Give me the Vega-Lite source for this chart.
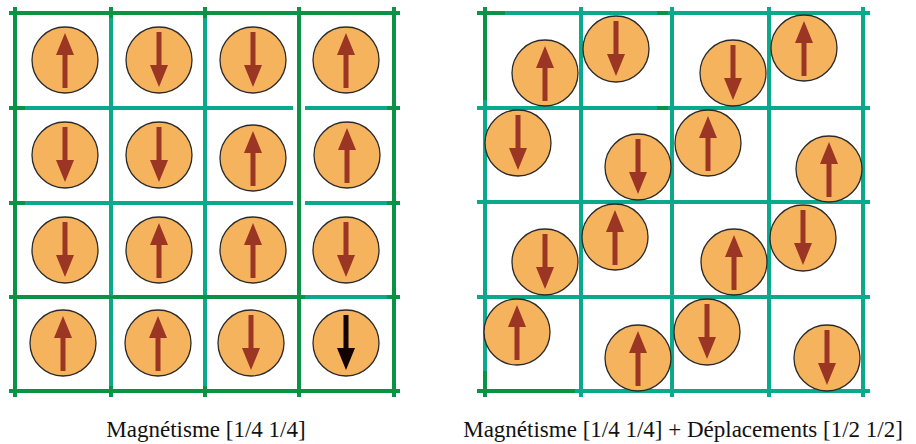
{
  "$schema": "https://vega.github.io/schema/vega-lite/v6.json",
  "width": 916,
  "height": 444,
  "autosize": {"type": "none"},
  "padding": 0,
  "background": "white",
  "config": {"view": {"stroke": null}},
  "datasets": {
    "grid": [
      {"panel": "L", "x": 111, "x2": 111, "y": 7, "y2": 397, "tone": "teal"},
      {"panel": "L", "x": 205, "x2": 205, "y": 7, "y2": 397, "tone": "teal"},
      {"panel": "L", "x": 25, "x2": 293, "y": 108, "y2": 108, "tone": "teal"},
      {"panel": "L", "x": 305, "x2": 387, "y": 108, "y2": 108, "tone": "teal"},
      {"panel": "L", "x": 25, "x2": 293, "y": 203, "y2": 203, "tone": "teal"},
      {"panel": "L", "x": 305, "x2": 387, "y": 203, "y2": 203, "tone": "teal"},
      {"panel": "L", "x": 305, "x2": 387, "y": 297, "y2": 297, "tone": "teal"},
      {"panel": "L", "x": 15, "x2": 15, "y": 7, "y2": 397, "tone": "dark"},
      {"panel": "L", "x": 299, "x2": 299, "y": 7, "y2": 397, "tone": "dark"},
      {"panel": "L", "x": 394, "x2": 394, "y": 7, "y2": 397, "tone": "dark"},
      {"panel": "L", "x": 111, "x2": 111, "y": 7, "y2": 18, "tone": "dark"},
      {"panel": "L", "x": 205, "x2": 205, "y": 7, "y2": 18, "tone": "dark"},
      {"panel": "L", "x": 111, "x2": 111, "y": 386, "y2": 397, "tone": "dark"},
      {"panel": "L", "x": 205, "x2": 205, "y": 386, "y2": 397, "tone": "dark"},
      {"panel": "L", "x": 9, "x2": 400, "y": 13, "y2": 13, "tone": "dark"},
      {"panel": "L", "x": 9, "x2": 25, "y": 108, "y2": 108, "tone": "dark"},
      {"panel": "L", "x": 387, "x2": 400, "y": 108, "y2": 108, "tone": "dark"},
      {"panel": "L", "x": 9, "x2": 25, "y": 203, "y2": 203, "tone": "dark"},
      {"panel": "L", "x": 387, "x2": 400, "y": 203, "y2": 203, "tone": "dark"},
      {"panel": "L", "x": 9, "x2": 305, "y": 297, "y2": 297, "tone": "dark"},
      {"panel": "L", "x": 387, "x2": 400, "y": 297, "y2": 297, "tone": "dark"},
      {"panel": "L", "x": 9, "x2": 400, "y": 391, "y2": 391, "tone": "dark"},
      {"panel": "R", "x": 485, "x2": 485, "y": 7, "y2": 397, "tone": "teal"},
      {"panel": "R", "x": 581, "x2": 581, "y": 7, "y2": 397, "tone": "teal"},
      {"panel": "R", "x": 672, "x2": 672, "y": 7, "y2": 397, "tone": "teal"},
      {"panel": "R", "x": 769, "x2": 769, "y": 7, "y2": 397, "tone": "teal"},
      {"panel": "R", "x": 863, "x2": 863, "y": 7, "y2": 397, "tone": "teal"},
      {"panel": "R", "x": 477, "x2": 870, "y": 13, "y2": 13, "tone": "teal"},
      {"panel": "R", "x": 477, "x2": 870, "y": 108, "y2": 108, "tone": "teal"},
      {"panel": "R", "x": 477, "x2": 870, "y": 202, "y2": 202, "tone": "teal"},
      {"panel": "R", "x": 477, "x2": 870, "y": 297, "y2": 297, "tone": "teal"},
      {"panel": "R", "x": 477, "x2": 870, "y": 391, "y2": 391, "tone": "teal"},
      {"panel": "R", "x": 485, "x2": 485, "y": 7, "y2": 100, "tone": "dark"},
      {"panel": "R", "x": 477, "x2": 505, "y": 13, "y2": 13, "tone": "dark"},
      {"panel": "R", "x": 657, "x2": 668, "y": 13, "y2": 13, "tone": "dark"},
      {"panel": "R", "x": 657, "x2": 668, "y": 108, "y2": 108, "tone": "dark"},
      {"panel": "R", "x": 477, "x2": 575, "y": 391, "y2": 391, "tone": "dark"},
      {"panel": "R", "x": 485, "x2": 485, "y": 371, "y2": 397, "tone": "dark"}
    ],
    "atoms": [
      {"panel": "L", "row": 1, "col": 1, "x": 65, "y": 60, "spin": "up", "marker": "normal"},
      {"panel": "L", "row": 1, "col": 2, "x": 159, "y": 60, "spin": "down", "marker": "normal"},
      {"panel": "L", "row": 1, "col": 3, "x": 253, "y": 60, "spin": "down", "marker": "normal"},
      {"panel": "L", "row": 1, "col": 4, "x": 346, "y": 60, "spin": "up", "marker": "normal"},
      {"panel": "L", "row": 2, "col": 1, "x": 65, "y": 155, "spin": "down", "marker": "normal"},
      {"panel": "L", "row": 2, "col": 2, "x": 159, "y": 155, "spin": "down", "marker": "normal"},
      {"panel": "L", "row": 2, "col": 3, "x": 253, "y": 158, "spin": "up", "marker": "normal"},
      {"panel": "L", "row": 2, "col": 4, "x": 347, "y": 155, "spin": "up", "marker": "normal"},
      {"panel": "L", "row": 3, "col": 1, "x": 65, "y": 250, "spin": "down", "marker": "normal"},
      {"panel": "L", "row": 3, "col": 2, "x": 159, "y": 250, "spin": "up", "marker": "normal"},
      {"panel": "L", "row": 3, "col": 3, "x": 253, "y": 250, "spin": "up", "marker": "normal"},
      {"panel": "L", "row": 3, "col": 4, "x": 346, "y": 250, "spin": "down", "marker": "normal"},
      {"panel": "L", "row": 4, "col": 1, "x": 63, "y": 343, "spin": "up", "marker": "normal"},
      {"panel": "L", "row": 4, "col": 2, "x": 158, "y": 343, "spin": "up", "marker": "normal"},
      {"panel": "L", "row": 4, "col": 3, "x": 251, "y": 343, "spin": "down", "marker": "normal"},
      {"panel": "L", "row": 4, "col": 4, "x": 346, "y": 343, "spin": "down", "marker": "highlight"},
      {"panel": "R", "row": 1, "col": 1, "x": 545, "y": 73, "spin": "up", "marker": "normal"},
      {"panel": "R", "row": 1, "col": 2, "x": 616, "y": 49, "spin": "down", "marker": "normal"},
      {"panel": "R", "row": 1, "col": 3, "x": 733, "y": 73, "spin": "down", "marker": "normal"},
      {"panel": "R", "row": 1, "col": 4, "x": 804, "y": 48, "spin": "up", "marker": "normal"},
      {"panel": "R", "row": 2, "col": 1, "x": 518, "y": 143, "spin": "down", "marker": "normal"},
      {"panel": "R", "row": 2, "col": 2, "x": 638, "y": 167, "spin": "down", "marker": "normal"},
      {"panel": "R", "row": 2, "col": 3, "x": 708, "y": 143, "spin": "up", "marker": "normal"},
      {"panel": "R", "row": 2, "col": 4, "x": 829, "y": 169, "spin": "up", "marker": "normal"},
      {"panel": "R", "row": 3, "col": 1, "x": 545, "y": 262, "spin": "down", "marker": "normal"},
      {"panel": "R", "row": 3, "col": 2, "x": 615, "y": 237, "spin": "up", "marker": "normal"},
      {"panel": "R", "row": 3, "col": 3, "x": 734, "y": 262, "spin": "up", "marker": "normal"},
      {"panel": "R", "row": 3, "col": 4, "x": 803, "y": 238, "spin": "down", "marker": "normal"},
      {"panel": "R", "row": 4, "col": 1, "x": 517, "y": 332, "spin": "up", "marker": "normal"},
      {"panel": "R", "row": 4, "col": 2, "x": 638, "y": 358, "spin": "up", "marker": "normal"},
      {"panel": "R", "row": 4, "col": 3, "x": 707, "y": 332, "spin": "down", "marker": "normal"},
      {"panel": "R", "row": 4, "col": 4, "x": 827, "y": 358, "spin": "down", "marker": "normal"}
    ],
    "captions": [
      {"panel": "L", "x": 206, "y": 437, "label": "Magnétisme [1/4 1/4]"},
      {"panel": "R", "x": 683, "y": 437, "label": "Magnétisme [1/4 1/4] + Déplacements [1/2 1/2]"}
    ]
  },
  "layer": [
    {
      "data": {"name": "grid"},
      "mark": {"type": "rule", "strokeWidth": 4, "strokeCap": "butt"},
      "encoding": {
        "x": {"field": "x", "type": "quantitative", "scale": {"domain": [0, 916], "range": [0, 916], "nice": false, "zero": false}, "axis": null},
        "x2": {"field": "x2"},
        "y": {"field": "y", "type": "quantitative", "scale": {"domain": [0, 444], "range": [0, 444], "nice": false, "zero": false}, "axis": null},
        "y2": {"field": "y2"},
        "color": {"field": "tone", "type": "nominal", "scale": {"domain": ["dark", "teal"], "range": ["#0b9345", "#0aa98b"]}, "legend": null}
      }
    },
    {
      "data": {"name": "atoms"},
      "mark": {"type": "point", "shape": "circle", "filled": true, "fill": "#f6b35e", "stroke": "#2a2a2a", "strokeWidth": 1.3, "opacity": 1, "size": 4356},
      "encoding": {
        "x": {"field": "x", "type": "quantitative"},
        "y": {"field": "y", "type": "quantitative"}
      }
    },
    {
      "data": {"name": "atoms"},
      "mark": {"type": "point", "filled": true, "opacity": 1, "size": 400, "strokeWidth": 0},
      "encoding": {
        "x": {"field": "x", "type": "quantitative"},
        "y": {"field": "y", "type": "quantitative"},
        "shape": {"field": "spin", "type": "nominal", "scale": {"domain": ["up", "down"], "range": ["M-0.25,2.8L-0.25,-0.5L-0.9,-0.5L0,-2.7L0.9,-0.5L0.25,-0.5L0.25,2.8Z", "M-0.25,-2.8L-0.25,0.5L-0.9,0.5L0,2.7L0.9,0.5L0.25,0.5L0.25,-2.8Z"]}, "legend": null},
        "fill": {"field": "marker", "type": "nominal", "scale": {"domain": ["normal", "highlight"], "range": ["#9b3524", "#120202"]}, "legend": null}
      }
    },
    {
      "data": {"name": "captions"},
      "mark": {"type": "text", "font": "Liberation Serif, DejaVu Serif, serif", "fontSize": 23, "align": "center", "baseline": "alphabetic", "color": "#111111"},
      "encoding": {
        "x": {"field": "x", "type": "quantitative"},
        "y": {"field": "y", "type": "quantitative"},
        "text": {"field": "label"}
      }
    }
  ]
}
